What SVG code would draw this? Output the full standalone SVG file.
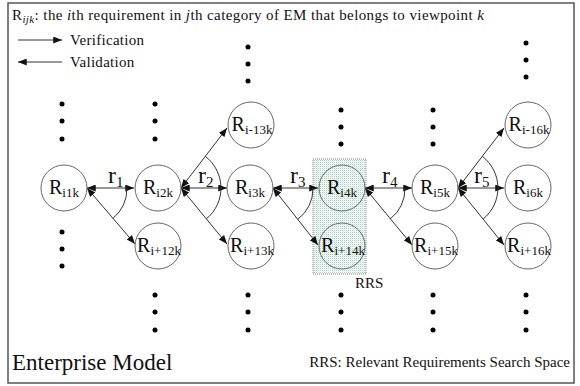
<svg xmlns="http://www.w3.org/2000/svg" width="580" height="386" viewBox="0 0 580 386">
<style>
text{font-family:"Liberation Serif","Times New Roman",serif;fill:#111}
.node{fill:none;stroke:#666;stroke-width:1}
.e{stroke:#333;stroke-width:1;fill:none}
.arc{stroke:#333;stroke-width:1;fill:none}
.dot{fill:#000}
.R{font-size:20px}
.sub{font-size:13px}
.rl{font-size:24px}
.rs{font-size:15px}
.leg{font-size:15px;letter-spacing:0.3px}
.top{letter-spacing:0.4px}
</style>
<defs>
<marker id="ah" viewBox="0 0 10 8" refX="10" refY="4" markerWidth="9" markerHeight="7" orient="auto-start-reverse" markerUnits="userSpaceOnUse"><path d="M0,0 L10,4 L0,8 z" fill="#111"/></marker>
<pattern id="dots" width="2" height="2" patternUnits="userSpaceOnUse"><rect width="2" height="2" fill="#ffffff"/><rect width="1" height="1" fill="#9fd8c4"/><rect x="1" y="1" width="1" height="1" fill="#e3efea"/></pattern>
</defs>
<rect x="8" y="3" width="566" height="380" fill="#fff" stroke="#555" stroke-width="1.5"/>
<g id="rrs">
<rect x="313" y="159" width="53" height="115" fill="url(#dots)" stroke="#888" stroke-width="1" stroke-dasharray="1,1"/>
<text x="355" y="288" font-size="15">RRS</text>
</g>
<g id="legend">
<text x="12" y="20" class="leg top">R<tspan font-size="11" dy="3" font-style="italic">ijk</tspan><tspan dy="-3">: the </tspan><tspan font-style="italic">i</tspan>th requirement in <tspan font-style="italic">j</tspan>th category of EM that belongs to viewpoint <tspan font-style="italic">k</tspan></text>
<line x1="18" y1="40" x2="62" y2="40" class="e" marker-end="url(#ah)"/>
<text x="70" y="45" class="leg">Verification</text>
<line x1="18" y1="62" x2="62" y2="62" class="e" marker-start="url(#ah)"/>
<text x="70" y="67" class="leg">Validation</text>
</g>
<g id="connectors">
<line class="e" x1="87" y1="188" x2="134" y2="188" marker-start="url(#ah)" marker-end="url(#ah)"/>
<line class="e" x1="87" y1="188" x2="135" y2="244" marker-start="url(#ah)" marker-end="url(#ah)"/>
<path class="arc" d="M127,188 A40,40 0 0 1 113,218.4"/>
<line class="e" x1="181" y1="188" x2="227" y2="128" marker-start="url(#ah)" marker-end="url(#ah)"/>
<line class="e" x1="181" y1="188" x2="227" y2="188" marker-start="url(#ah)" marker-end="url(#ah)"/>
<line class="e" x1="181" y1="188" x2="227" y2="244" marker-start="url(#ah)" marker-end="url(#ah)"/>
<path class="arc" d="M205.3,156.3 A40,40 0 0 1 206.4,218.9"/>
<line class="e" x1="273" y1="188" x2="318" y2="188" marker-start="url(#ah)" marker-end="url(#ah)"/>
<line class="e" x1="273" y1="188" x2="318" y2="245" marker-start="url(#ah)" marker-end="url(#ah)"/>
<path class="arc" d="M313,188 A40,40 0 0 1 297.8,219.4"/>
<line class="e" x1="365" y1="188" x2="412" y2="188" marker-start="url(#ah)" marker-end="url(#ah)"/>
<line class="e" x1="365" y1="188" x2="412" y2="245" marker-start="url(#ah)" marker-end="url(#ah)"/>
<path class="arc" d="M405,188 A40,40 0 0 1 390.4,218.9"/>
<line class="e" x1="458" y1="188" x2="504" y2="128" marker-start="url(#ah)" marker-end="url(#ah)"/>
<line class="e" x1="458" y1="188" x2="504" y2="188" marker-start="url(#ah)" marker-end="url(#ah)"/>
<line class="e" x1="458" y1="188" x2="504" y2="245" marker-start="url(#ah)" marker-end="url(#ah)"/>
<path class="arc" d="M482.3,156.3 A40,40 0 0 1 483.1,219.1"/>
<text x="108" y="183" class="rl">r<tspan class="rs" dy="4">1</tspan></text>
<text x="198" y="183" class="rl">r<tspan class="rs" dy="4">2</tspan></text>
<text x="290" y="183" class="rl">r<tspan class="rs" dy="4">3</tspan></text>
<text x="382" y="183" class="rl">r<tspan class="rs" dy="4">4</tspan></text>
<text x="474" y="183" class="rl">r<tspan class="rs" dy="4">5</tspan></text>
</g>
<g id="n-i1k"><circle class="node" cx="64" cy="188" r="23"/><text x="64" y="194" text-anchor="middle"><tspan class="R">R</tspan><tspan class="sub" dy="3">i1k</tspan></text></g>
<g id="n-i2k"><circle class="node" cx="158" cy="188" r="23"/><text x="158" y="194" text-anchor="middle"><tspan class="R">R</tspan><tspan class="sub" dy="3">i2k</tspan></text></g>
<g id="n-i3k"><circle class="node" cx="250" cy="188" r="23"/><text x="250" y="194" text-anchor="middle"><tspan class="R">R</tspan><tspan class="sub" dy="3">i3k</tspan></text></g>
<g id="n-i4k"><circle class="node" cx="342" cy="188" r="23"/><text x="342" y="194" text-anchor="middle"><tspan class="R">R</tspan><tspan class="sub" dy="3">i4k</tspan></text></g>
<g id="n-i5k"><circle class="node" cx="435" cy="188" r="23"/><text x="435" y="194" text-anchor="middle"><tspan class="R">R</tspan><tspan class="sub" dy="3">i5k</tspan></text></g>
<g id="n-i6k"><circle class="node" cx="528" cy="188" r="23"/><text x="528" y="194" text-anchor="middle"><tspan class="R">R</tspan><tspan class="sub" dy="3">i6k</tspan></text></g>
<g id="n-im13k"><circle class="node" cx="251" cy="125" r="23"/><text x="252" y="131" text-anchor="middle"><tspan class="R">R</tspan><tspan class="sub" dy="3">i-13k</tspan></text></g>
<g id="n-im16k"><circle class="node" cx="528" cy="125" r="23"/><text x="529" y="131" text-anchor="middle"><tspan class="R">R</tspan><tspan class="sub" dy="3">i-16k</tspan></text></g>
<g id="n-ip12k"><circle class="node" cx="158" cy="246" r="23"/><text x="159" y="252" text-anchor="middle"><tspan class="R">R</tspan><tspan class="sub" dy="3">i+12k</tspan></text></g>
<g id="n-ip13k"><circle class="node" cx="251" cy="246" r="23"/><text x="252" y="252" text-anchor="middle"><tspan class="R">R</tspan><tspan class="sub" dy="3">i+13k</tspan></text></g>
<g id="n-ip14k"><circle class="node" cx="342" cy="246" r="23"/><text x="343" y="252" text-anchor="middle"><tspan class="R">R</tspan><tspan class="sub" dy="3">i+14k</tspan></text></g>
<g id="n-ip15k"><circle class="node" cx="435" cy="246" r="23"/><text x="436" y="252" text-anchor="middle"><tspan class="R">R</tspan><tspan class="sub" dy="3">i+15k</tspan></text></g>
<g id="n-ip16k"><circle class="node" cx="528" cy="246" r="23"/><text x="529" y="252" text-anchor="middle"><tspan class="R">R</tspan><tspan class="sub" dy="3">i+16k</tspan></text></g>
<g id="dots-group">
<circle class="dot" cx="62" cy="104" r="2.5"/><circle class="dot" cx="62" cy="121" r="2.5"/><circle class="dot" cx="62" cy="139" r="2.5"/>
<circle class="dot" cx="155" cy="104" r="2.5"/><circle class="dot" cx="155" cy="121" r="2.5"/><circle class="dot" cx="155" cy="139" r="2.5"/>
<circle class="dot" cx="248" cy="47" r="2.5"/><circle class="dot" cx="248" cy="64" r="2.5"/><circle class="dot" cx="248" cy="81" r="2.5"/>
<circle class="dot" cx="341" cy="110" r="2.5"/><circle class="dot" cx="341" cy="127" r="2.5"/><circle class="dot" cx="341" cy="144" r="2.5"/>
<circle class="dot" cx="433" cy="110" r="2.5"/><circle class="dot" cx="433" cy="127" r="2.5"/><circle class="dot" cx="433" cy="144" r="2.5"/>
<circle class="dot" cx="526" cy="43" r="2.5"/><circle class="dot" cx="526" cy="60" r="2.5"/><circle class="dot" cx="526" cy="77" r="2.5"/>
<circle class="dot" cx="62" cy="232" r="2.5"/><circle class="dot" cx="62" cy="249" r="2.5"/><circle class="dot" cx="62" cy="266" r="2.5"/>
<circle class="dot" cx="155" cy="295" r="2.5"/><circle class="dot" cx="155" cy="312" r="2.5"/><circle class="dot" cx="155" cy="330" r="2.5"/>
<circle class="dot" cx="248" cy="295" r="2.5"/><circle class="dot" cx="248" cy="312" r="2.5"/><circle class="dot" cx="248" cy="330" r="2.5"/>
<circle class="dot" cx="341" cy="295" r="2.5"/><circle class="dot" cx="341" cy="312" r="2.5"/><circle class="dot" cx="341" cy="330" r="2.5"/>
<circle class="dot" cx="433" cy="295" r="2.5"/><circle class="dot" cx="433" cy="312" r="2.5"/><circle class="dot" cx="433" cy="330" r="2.5"/>
<circle class="dot" cx="526" cy="295" r="2.5"/><circle class="dot" cx="526" cy="312" r="2.5"/><circle class="dot" cx="526" cy="330" r="2.5"/>
</g>
<g id="footer">
<text x="12" y="370" font-size="23">Enterprise Model</text>
<text x="570" y="367" font-size="15" text-anchor="end">RRS: Relevant Requirements Search Space</text>
</g>
</svg>
